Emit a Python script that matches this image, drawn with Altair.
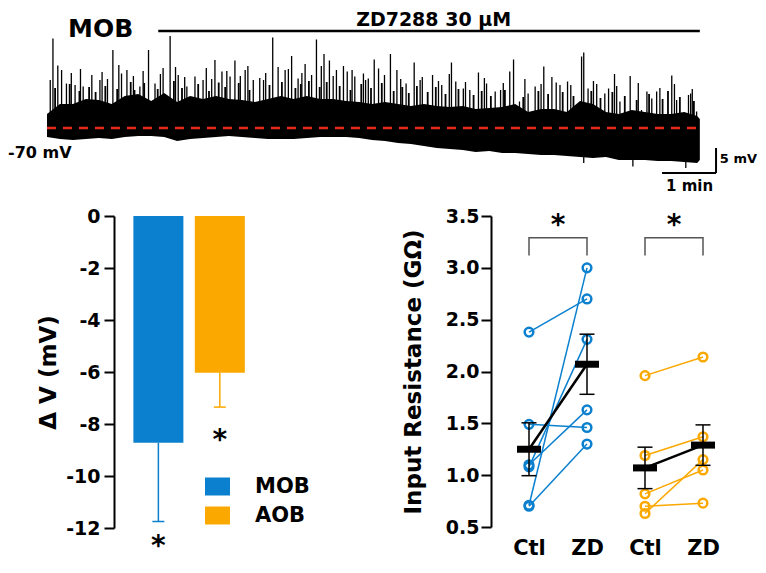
import altair as alt
import pandas as pd
import json

FONT = "DejaVu Sans"
BLUE = "#0b80cf"
ORANGE = "#fba800"

# ---------------- voltage trace (minutes, mV) ----------------
trace_t = [0.0, 0.24, 0.48, 0.72, 0.96, 1.20, 1.44, 1.69, 1.93, 2.17, 2.41, 2.65, 2.89,
           3.13, 3.37, 3.61, 3.85, 4.09, 4.33, 4.57, 4.81, 5.06, 5.30, 5.54, 5.78, 6.02,
           6.26, 6.50, 6.74, 6.98, 7.22, 7.46, 7.70, 7.94, 8.19, 8.43, 8.67, 8.91, 9.15,
           9.39, 9.63, 9.87, 10.11, 10.35, 10.59, 10.83, 11.07, 11.31, 11.56, 11.80, 12.04, 12.09]
# top of the dense black body of the trace
trace_hi = [-67.2, -65.2, -65.2, -64.2, -64.4, -65.2, -63.6, -63.2, -64.6, -63.0, -64.8, -63.6, -64.2,
            -63.6, -64.2, -64.4, -64.8, -64.2, -63.6, -64.2, -63.6, -64.2, -64.2, -64.6, -64.8, -65.2,
            -64.8, -65.2, -65.6, -65.2, -65.6, -65.8, -65.6, -66.2, -66.0, -65.8, -65.2, -66.8, -66.2,
            -66.2, -66.8, -64.6, -65.2, -66.8, -67.2, -66.4, -66.8, -67.2, -67.2, -66.8, -67.6, -68.2]
trace_lo = [-71.8, -72.2, -72.4, -72.2, -72.0, -72.2, -71.8, -71.6, -71.6, -71.8, -72.6, -72.2, -72.0,
            -71.8, -71.6, -71.8, -72.0, -72.2, -72.2, -72.2, -72.0, -71.8, -71.8, -71.8, -72.0, -72.4,
            -72.6, -73.0, -73.2, -73.6, -74.0, -74.2, -74.4, -74.8, -74.6, -75.0, -75.0, -75.2, -75.4,
            -75.4, -75.6, -75.8, -76.0, -75.8, -76.4, -76.4, -76.4, -76.6, -76.6, -76.8, -77.0, -76.4]
spike_t = [0.11, 0.27, 0.83, 1.22, 1.48, 1.88, 2.15, 2.28, 2.74, 3.11, 3.24, 3.48, 3.67, 3.94,
           4.18, 4.28, 4.53, 4.78, 4.99, 5.13, 5.23, 5.36, 5.49, 5.86, 6.06, 6.36, 6.48, 6.65,
           6.80, 7.14, 7.49, 7.57, 7.99, 8.57, 8.64, 9.20, 9.43, 9.64, 9.94, 10.18, 10.51, 10.80,
           11.11, 11.29, 11.57, 11.92,
           0.06, 0.36, 0.52, 0.67, 0.98, 1.38, 1.72, 2.00, 2.43, 2.59, 2.89, 3.39, 3.82, 4.01,
           4.41, 4.65, 4.90, 5.56, 5.70, 5.95, 6.14, 6.91, 7.31, 7.71, 7.83, 8.14, 8.30, 8.40,
           8.75, 8.91, 9.04, 9.50, 9.90, 10.02, 10.33, 10.40, 10.61, 11.01, 11.20, 11.66, 11.88, 12.03,
           0.20, 0.45, 0.62, 1.02, 1.12, 1.33, 1.60, 1.78, 2.10, 2.38, 2.55, 2.95, 3.05, 3.33,
           3.58, 3.72, 4.05, 4.47, 4.72, 5.08, 5.30, 5.65, 5.90, 6.25, 6.55, 6.95, 7.25, 7.45,
           7.75, 8.10, 8.45, 8.85, 9.15, 9.35, 9.70, 10.12, 10.55, 10.95, 11.35, 11.62, 11.95]
spike_v = [-52.1, -58.4, -59.4, -54.4, -58.4, -54.4, -58.0, -51.6, -59.7, -56.4, -58.7, -56.5, -58.4, -60.0,
           -51.9, -57.8, -55.6, -57.2, -52.3, -55.2, -56.5, -58.4, -57.6, -59.1, -56.3, -55.2, -58.4, -61.1,
           -56.9, -59.4, -56.9, -60.7, -58.9, -58.7, -56.3, -57.7, -60.9, -60.7, -54.9, -61.2, -59.2, -59.6,
           -62.7, -62.7, -59.5, -63.1,
           -60.4, -61.1, -61.4, -61.7, -60.4, -59.1, -61.7, -61.1, -59.4, -61.7, -60.4, -59.7, -60.4, -60.4,
           -58.4, -60.1, -59.4, -58.7, -59.7, -60.1, -58.1, -60.4, -61.4, -62.1, -62.4, -61.1, -62.7, -62.4,
           -64.7, -63.1, -61.7, -61.4, -55.7, -62.1, -63.1, -62.1, -64.7, -66.4, -64.1, -64.4, -63.4, -66.7,
           -57.5, -59.0, -58.2, -58.8, -60.2, -57.4, -59.6, -58.6, -59.2, -57.8, -59.8, -58.0, -60.2, -58.6,
           -59.6, -57.6, -59.0, -58.2, -59.0, -57.6, -59.6, -58.4, -60.4, -59.4, -60.2, -59.8, -60.6, -59.2,
           -60.8, -60.0, -61.0, -60.2, -61.2, -59.8, -61.4, -60.6, -61.6, -61.0, -62.0, -61.2, -62.2]
# dense, lower "hair" of the trace
hair_t = [0.15, 0.42, 0.60, 0.78, 0.90, 1.08, 1.30, 1.55, 1.62, 1.80, 2.05, 2.35, 2.50, 2.80,
          3.00, 3.18, 3.30, 3.55, 3.75, 4.12, 4.35, 4.60, 4.70, 4.85, 5.05, 5.18, 5.42, 5.62,
          5.82, 6.00, 6.20, 6.42, 6.58, 6.70, 6.85, 7.05, 7.20, 7.38, 7.62, 7.90, 8.05, 8.22,
          8.48, 8.82, 9.10, 9.28, 9.55, 9.75, 10.08, 10.25, 10.47, 10.70, 10.92, 11.15, 11.40,
          11.50, 11.72, 11.98]
hair_v = [-62.0, -61.2, -62.6, -61.8, -62.8, -61.6, -62.2, -60.8, -62.4, -61.0, -62.2, -60.6, -62.0, -61.2,
          -62.6, -60.9, -61.8, -61.0, -62.4, -61.4, -60.8, -62.0, -61.2, -60.6, -61.8, -60.8, -61.6, -62.4,
          -61.2, -62.0, -61.0, -62.6, -61.8, -63.0, -61.6, -62.8, -61.8, -63.2, -62.2, -63.4, -62.6, -63.6,
          -62.4, -63.8, -62.6, -63.2, -62.8, -63.6, -62.6, -64.0, -62.8, -63.6, -64.4, -63.2, -64.2,
          -62.6, -63.8, -64.6]
dip_t = [9.94, 10.85, 11.83]
dip_v = [-77.0, -77.7, -78.0]
rest_mv = -70
drug_t = [2.06, 12.09]
drug_bar_mv = -50.6
trace_end = 12.09
scalebar_t = [11.39, 12.39]
scalebar_v = [-79.0, -74.0]

# ---------------- delta V bars ----------------
groups = ["MOB", "AOB"]
bar_pos = [1, 2]
dv_mean = [-8.72, -6.03]
dv_sem = [3.03, 1.32]
dv_star = [-13.04, -8.95]

# ---------------- input resistance ----------------
mob_ctl = [2.38, 1.49, 1.10, 1.08, 0.71, 0.70]
mob_zd = [2.70, 1.46, 1.63, 2.31, 3.00, 1.30]
aob_ctl = [1.96, 1.19, 0.82, 0.63, 0.70]
aob_zd = [2.14, 1.37, 1.05, 1.15, 0.73]
cond_pos = [1, 2, 3, 4]
cond_labels = ["Ctl", "ZD", "Ctl", "ZD"]
cond_group = ["MOB", "MOB", "AOB", "AOB"]
ri_mean = [1.25, 2.07, 1.07, 1.29]
ri_sem = [0.255, 0.29, 0.20, 0.195]
bracket_low, bracket_high = 3.12, 3.29
ri_star = 3.326

# ================= trace chart =================
XT = alt.Scale(domain=[1.2407, 12.093], nice=False, zero=False)
YT = alt.Scale(domain=[-83.6, -46.0], nice=False, zero=False)


def tx(f):
    return alt.X(f, type="quantitative", scale=XT, axis=None)


def ty(f):
    return alt.Y(f, type="quantitative", scale=YT, axis=None)


def dx(v):
    return alt.X(datum=v, type="quantitative", scale=XT, axis=None)


def dy(v):
    return alt.Y(datum=v, type="quantitative", scale=YT, axis=None)


trace_df = pd.DataFrame({"t": trace_t, "hi": trace_hi, "lo": trace_lo})
spike_df = pd.DataFrame({"t": spike_t, "v": spike_v})
hair_df = pd.DataFrame({"t": hair_t, "v": hair_v})
dip_df = pd.DataFrame({"t": dip_t, "v": dip_v})
one = pd.DataFrame({"a": [0]})

area = alt.Chart(trace_df).mark_area(color="black", opacity=1).encode(
    x=tx("t"), y=ty("lo"), y2="hi")
hair = alt.Chart(hair_df).mark_rule(color="black", strokeWidth=1.8).encode(
    x=tx("t"), y=ty("v"), y2=alt.datum(rest_mv))
spikes = alt.Chart(spike_df).mark_rule(color="black", strokeWidth=1.3).encode(
    x=tx("t"), y=ty("v"), y2=alt.datum(rest_mv))
dips = alt.Chart(dip_df).mark_rule(color="black", strokeWidth=1.3).encode(
    x=tx("t"), y=ty("v"), y2=alt.datum(-74))
red = alt.Chart(one).mark_rule(color="#e8281e", strokeWidth=2.5, strokeDash=[9, 7]).encode(
    x=dx(0), x2=alt.datum(trace_end), y=dy(rest_mv))
drug = alt.Chart(one).mark_rule(color="black", strokeWidth=2.5).encode(
    x=dx(drug_t[0]), x2=alt.datum(drug_t[1]), y=dy(drug_bar_mv))
sb_h = alt.Chart(one).mark_rule(color="black", strokeWidth=2).encode(
    x=dx(scalebar_t[0]), x2=alt.datum(scalebar_t[1]), y=dy(scalebar_v[0]))
sb_v = alt.Chart(one).mark_rule(color="black", strokeWidth=2).encode(
    x=dx(scalebar_t[1]), y=dy(scalebar_v[0]), y2=alt.datum(scalebar_v[1]))


def ttext(label, t, v, size, align="left", baseline="alphabetic"):
    return alt.Chart(one).mark_text(
        text=label, font=FONT, fontWeight="bold", fontSize=size, color="black",
        align=align, baseline=baseline).encode(x=dx(t), y=dy(v))


txt_mob = ttext("MOB", 0.39, -51.86, 25)
txt_zd = ttext("ZD7288 30 µM", 7.16, -46.6, 19, align="center", baseline="top")
txt_70 = ttext("-70 mV", -0.722, -76.0, 16)
txt_5 = ttext("5 mV", 12.46, -76.2, 13, baseline="middle")
txt_1 = ttext("1 min", 11.9, -81.6, 15, align="center", baseline="middle")

trace_chart = alt.layer(area, hair, spikes, dips, red, drug, sb_h, sb_v,
                        txt_mob, txt_zd, txt_70, txt_5, txt_1).properties(width=586, height=188)

# ================= delta V bar chart =================
XB = alt.Scale(domain=[0.359, 4.265], nice=False, zero=False)
YB = alt.Scale(domain=[-12, 0], nice=False, zero=False)
CB = alt.Scale(domain=groups, range=[BLUE, ORANGE])
LEG = alt.Legend(orient="none", legendX=91, legendY=258, title=None,
                 symbolType="M-1,-0.72H1V0.72H-1Z", symbolSize=625, symbolStrokeWidth=0,
                 symbolOpacity=1, labelFont=FONT, labelFontSize=21, labelFontWeight="bold",
                 labelColor="black", labelOffset=25, rowPadding=6, padding=0)

bar_df = pd.DataFrame({"group": groups, "pos": bar_pos, "dv": dv_mean,
                       "err": [m - s for m, s in zip(dv_mean, dv_sem)], "star": dv_star})

yaxis_b = alt.Axis(values=list(range(-12, 1, 2)), title="Δ V (mV)", grid=False,
                   labelExpr="toString(datum.value)",
                   domainColor="black", domainWidth=2, tickColor="black", tickWidth=2, tickSize=10,
                   labelFont=FONT, labelFontSize=19, labelFontWeight="bold", labelColor="black",
                   labelPadding=4, titleFont=FONT, titleFontSize=23, titleFontWeight="bold",
                   titleColor="black", titlePadding=5)

bars = alt.Chart(bar_df).mark_bar(width=50, opacity=1).encode(
    x=alt.X("pos:Q", scale=XB, axis=None),
    y=alt.Y("dv:Q", scale=YB, axis=yaxis_b),
    y2=alt.datum(0),
    color=alt.Color("group:N", scale=CB, legend=LEG))
bar_err = alt.Chart(bar_df).mark_rule(strokeWidth=1.5).encode(
    x=alt.X("pos:Q", scale=XB, axis=None), y=alt.Y("dv:Q", scale=YB, axis=yaxis_b), y2="err:Q",
    color=alt.Color("group:N", scale=CB, legend=LEG))
bar_cap = alt.Chart(bar_df).mark_tick(orient="horizontal", size=12, thickness=1.5, opacity=1).encode(
    x=alt.X("pos:Q", scale=XB, axis=None), y=alt.Y("err:Q", scale=YB, axis=yaxis_b),
    color=alt.Color("group:N", scale=CB, legend=LEG))
bar_star = alt.Chart(bar_df).mark_text(text="*", font=FONT, fontWeight="bold", fontSize=28,
                                       color="black", baseline="alphabetic").encode(
    x=alt.X("pos:Q", scale=XB, axis=None), y=alt.Y("star:Q", scale=YB, axis=yaxis_b))

bar_chart = alt.layer(bars, bar_err, bar_cap, bar_star).properties(width=250, height=312)

# ================= input resistance chart =================
XR = alt.Scale(domain=[0.3448, 4.569], nice=False, zero=False)
YR = alt.Scale(domain=[0.5, 3.5], nice=False, zero=False)
CR = alt.Scale(domain=groups, range=[BLUE, ORANGE])

rows = []
for i, (c, z) in enumerate(zip(mob_ctl, mob_zd)):
    rows += [{"group": "MOB", "cell": f"m{i}", "x": 1, "v": c},
             {"group": "MOB", "cell": f"m{i}", "x": 2, "v": z}]
for i, (c, z) in enumerate(zip(aob_ctl, aob_zd)):
    rows += [{"group": "AOB", "cell": f"a{i}", "x": 3, "v": c},
             {"group": "AOB", "cell": f"a{i}", "x": 4, "v": z}]
cells_df = pd.DataFrame(rows)

mean_df = pd.DataFrame({"x": cond_pos, "grp": cond_group, "m": ri_mean,
                        "lo": [m - s for m, s in zip(ri_mean, ri_sem)],
                        "hi": [m + s for m, s in zip(ri_mean, ri_sem)]})
cap_df = pd.DataFrame({"x": cond_pos * 2,
                       "v": list(mean_df["lo"]) + list(mean_df["hi"])})

brows = []
for b, (x0, x1) in enumerate([(1, 2), (3, 4)]):
    for o, (xx, yy) in enumerate([(x0, bracket_low), (x0, bracket_high),
                                  (x1, bracket_high), (x1, bracket_low)]):
        brows.append({"b": b, "o": o, "x": xx, "v": yy})
bracket_df = pd.DataFrame(brows)
star_df = pd.DataFrame({"x": [1.5, 3.5], "v": [ri_star, ri_star]})

label_expr = "%s[datum.value - 1]" % json.dumps(cond_labels)
xaxis_r = alt.Axis(values=cond_pos, labelExpr=label_expr, title=None, domain=False, ticks=False,
                   grid=False, labelFont=FONT, labelFontSize=21, labelFontWeight="bold",
                   labelColor="black", labelPadding=10)
yaxis_r = alt.Axis(values=[0.5, 1.0, 1.5, 2.0, 2.5, 3.0, 3.5], format=".1f",
                   title="Input Resistance (GΩ)", grid=False,
                   domainColor="black", domainWidth=2, tickColor="black", tickWidth=2, tickSize=10,
                   labelFont=FONT, labelFontSize=19, labelFontWeight="bold", labelColor="black",
                   labelPadding=2, titleFont=FONT, titleFontSize=23, titleFontWeight="bold",
                   titleColor="black", titlePadding=20)

pair_lines = alt.Chart(cells_df).mark_line(strokeWidth=1.5).encode(
    x=alt.X("x:Q", scale=XR, axis=xaxis_r),
    y=alt.Y("v:Q", scale=YR, axis=yaxis_r),
    color=alt.Color("group:N", scale=CR, legend=None),
    detail="cell:N")
pts = alt.Chart(cells_df).mark_point(shape="circle", filled=False, size=75, strokeWidth=2.5,
                                     opacity=1).encode(
    x=alt.X("x:Q", scale=XR), y=alt.Y("v:Q", scale=YR),
    color=alt.Color("group:N", scale=CR, legend=None))
err_r = alt.Chart(mean_df).mark_rule(color="black", strokeWidth=1.5).encode(
    x=alt.X("x:Q", scale=XR), y=alt.Y("lo:Q", scale=YR), y2="hi:Q")
caps_r = alt.Chart(cap_df).mark_tick(orient="horizontal", size=15, thickness=1.5,
                                     color="black", opacity=1).encode(
    x=alt.X("x:Q", scale=XR), y=alt.Y("v:Q", scale=YR))
mean_line = alt.Chart(mean_df).mark_line(color="black", strokeWidth=2.5).encode(
    x=alt.X("x:Q", scale=XR), y=alt.Y("m:Q", scale=YR), detail="grp:N")
mean_tick = alt.Chart(mean_df).mark_tick(orient="horizontal", size=24, thickness=7,
                                         color="black", opacity=1).encode(
    x=alt.X("x:Q", scale=XR), y=alt.Y("m:Q", scale=YR))
brackets = alt.Chart(bracket_df).mark_line(color="#555555", strokeWidth=1.5).encode(
    x=alt.X("x:Q", scale=XR), y=alt.Y("v:Q", scale=YR), detail="b:N", order="o:Q")
stars_r = alt.Chart(star_df).mark_text(text="*", font=FONT, fontWeight="bold", fontSize=28,
                                       color="black", baseline="alphabetic").encode(
    x=alt.X("x:Q", scale=XR), y=alt.Y("v:Q", scale=YR))

res_chart = alt.layer(pair_lines, pts, err_r, caps_r, mean_line, mean_tick,
                      brackets, stars_r).properties(width=245, height=311)

bottom = alt.hconcat(bar_chart, res_chart, spacing=127, bounds="flush").resolve_scale(
    color="independent").resolve_legend(color="independent")

chart = alt.vconcat(trace_chart, bottom, spacing=20, bounds="flush").properties(
    padding=0).configure(font=FONT).configure_view(stroke=None)

chart.save("out.html", embed_options={"renderer": "svg", "actions": False})
